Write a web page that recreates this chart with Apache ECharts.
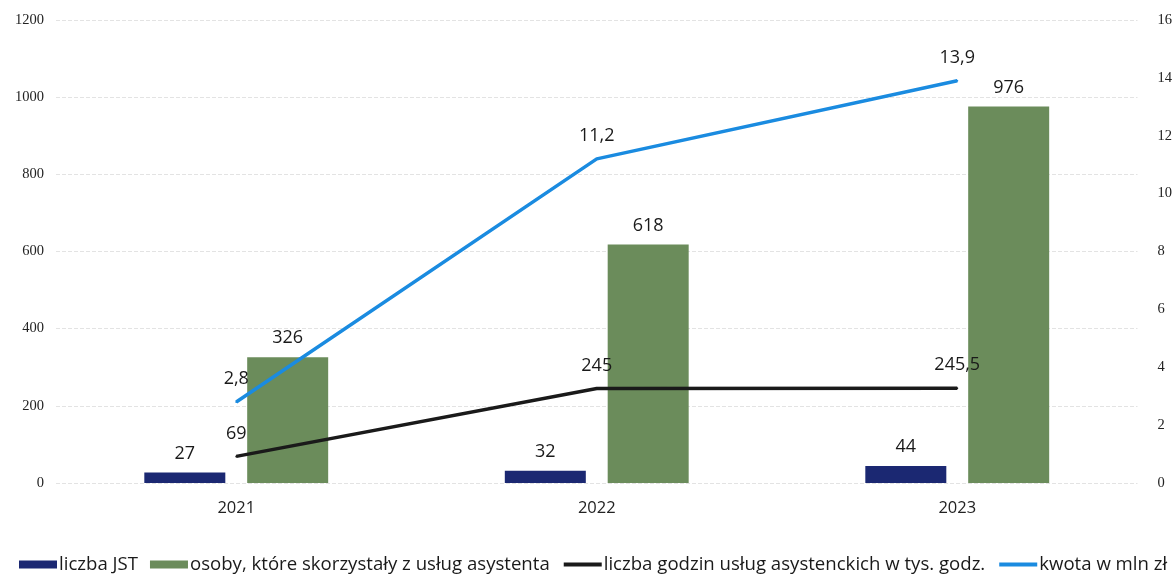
<!DOCTYPE html>
<html><head><meta charset="utf-8">
<script src="https://cdn.jsdelivr.net/npm/echarts@6/dist/echarts.min.js"></script>
<style>html,body{margin:0;padding:0;background:#fff}#c{width:1175px;height:576px}</style>
</head><body><div id="c"></div>
<script>
var categories = ['2021', '2022', '2023'];
var liczbaJST = [27, 32, 44];
var osoby = [326, 618, 976];
var godziny = [69, 245, 245.5];
var kwota = [2.8, 11.2, 13.9];
var leftTicks = [0, 1200, 200];
var rightTicks = [0, 16, 2];

var fmt = function (p) { return String(p.value).replace('.', ','); };
var barLabel = { show: true, position: 'top', color: '#1a1a1a', fontSize: 18, fontFamily: 'Open Sans', distance: 10, formatter: fmt };
var lineLabel = { show: true, position: 'top', color: '#1a1a1a', fontSize: 18, fontFamily: 'Open Sans', distance: 13, formatter: fmt };
var chart = echarts.init(document.getElementById('c'));
chart.setOption({
  animation: false,
  grid: { left: 56, right: 37, top: 20, bottom: 93 },
  legend: {
    bottom: -3, left: 14, itemGap: 12, itemWidth: 38, itemHeight: 8,
    textStyle: { fontSize: 18.6, color: '#1a1a1a', fontFamily: 'Open Sans', padding: [0, 0, 0, -3] },
    data: [
      { name: 'liczba JST', icon: 'rect' },
      { name: 'osoby, które skorzystały z usług asystenta', icon: 'rect' },
      { name: 'liczba godzin usług asystenckich w tys. godz.', itemStyle: { opacity: 0 }, lineStyle: { width: 4 } },
      { name: 'kwota w mln zł', itemStyle: { opacity: 0 }, lineStyle: { width: 4 } }
    ]
  },
  xAxis: {
    type: 'category', data: categories,
    axisLine: { show: false }, axisTick: { show: false },
    axisLabel: { fontSize: 16.5, color: '#222', margin: 17, fontFamily: 'Open Sans' }
  },
  yAxis: [
    { type: 'value', min: leftTicks[0], max: leftTicks[1], interval: leftTicks[2],
      axisLabel: { fontSize: 14.5, color: '#222', margin: 12, fontFamily: 'Liberation Serif', formatter: function (v) { return String(v); } },
      splitLine: { lineStyle: { color: '#e3e3e3', width: 1, type: 'dashed' } },
      axisLine: { show: false }, axisTick: { show: false } },
    { type: 'value', min: rightTicks[0], max: rightTicks[1], interval: rightTicks[2],
      axisLabel: { fontSize: 14.5, color: '#222', margin: 20, fontFamily: 'Liberation Serif' },
      splitLine: { show: false }, axisLine: { show: false }, axisTick: { show: false } }
  ],
  series: [
    { name: 'liczba JST', type: 'bar', data: liczbaJST, barWidth: 81, barGap: '27%',
      itemStyle: { color: '#1b2872' }, label: barLabel },
    { name: 'osoby, które skorzystały z usług asystenta', type: 'bar', data: osoby, barWidth: 81,
      itemStyle: { color: '#6b8c5b' }, label: barLabel },
    { name: 'liczba godzin usług asystenckich w tys. godz.', type: 'line', data: godziny,
      symbol: 'circle', symbolSize: 2, showSymbol: true,
      lineStyle: { color: '#1a1a1a', width: 3.5 }, itemStyle: { color: '#1a1a1a' },
      label: lineLabel },
    { name: 'kwota w mln zł', type: 'line', yAxisIndex: 1, data: kwota,
      symbol: 'circle', symbolSize: 2, showSymbol: true,
      lineStyle: { color: '#1a8be0', width: 3.5 }, itemStyle: { color: '#1a8be0' },
      label: lineLabel }
  ]
});
</script></body></html>
